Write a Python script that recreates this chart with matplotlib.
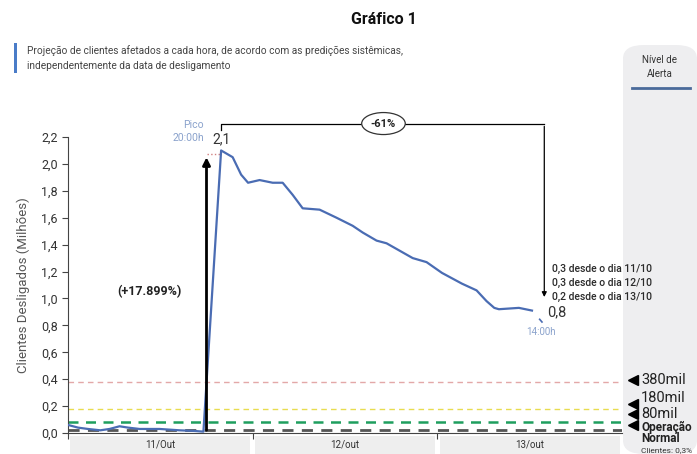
import matplotlib
matplotlib.use("Agg")
import matplotlib.pyplot as plt
from matplotlib.patches import FancyBboxPatch, Rectangle
from matplotlib.lines import Line2D
import matplotlib.transforms as mtransforms

plt.rcParams['font.family'] = ['Roboto', 'DejaVu Sans']

# ---------------- data ----------------
hours = [0.0, 1.3, 2.6, 4.2, 5.4, 6.7, 7.8, 9.3, 11.9, 14.5, 16.5, 17.6,
         19.9, 21.4, 22.5, 23.4, 24.9, 26.6, 27.9, 29.2, 30.5, 32.7, 34.9,
         37.0, 38.3, 40.1, 41.4, 44.8, 46.6, 48.6, 51.2, 53.1, 54.4, 55.4,
         56.0, 58.6, 60.3]
clients = [0.06, 0.04, 0.03, 0.02, 0.03, 0.05, 0.04, 0.03, 0.03, 0.02, 0.015, 0.01,
           2.10, 2.05, 1.92, 1.86, 1.88, 1.86, 1.86, 1.77, 1.67, 1.66, 1.60,
           1.54, 1.49, 1.43, 1.41, 1.30, 1.27, 1.19, 1.11, 1.06, 0.98, 0.93,
           0.92, 0.93, 0.91]
alert_levels = [0.38, 0.18, 0.08, 0.025]
alert_colors = ['#e3a8a8', '#e8dc50', '#1f9e5e', '#555555']
day_labels = ['11/Out', '12/out', '13/out']
day_starts = [0, 24, 48]
yticks = [0.0, 0.2, 0.4, 0.6, 0.8, 1.0, 1.2, 1.4, 1.6, 1.8, 2.0, 2.2]
peak_hour = 19.9
rise_hour = 18.0
end_hour = 61.9
desde_lines = ['0,3 desde o dia 11/10', '0,3 desde o dia 12/10', '0,2 desde o dia 13/10']

W, H = 697, 454
fig = plt.figure(figsize=(W / 100, H / 100), dpi=100)
fig.patch.set_facecolor('white')

def fx(x):
    return x / W

def fy(y):
    return 1 - y / H

# right gray panel
panel = FancyBboxPatch((fx(623), 0), fx(697) - fx(623), fy(45), boxstyle="round,pad=0,rounding_size=0.03",
                       transform=fig.transFigure, facecolor='#eeeef0', edgecolor='none', zorder=0)
fig.add_artist(panel)

ax = fig.add_axes([fx(68), fy(433), fx(622) - fx(68), (433 - 137) / H])
ax.set_facecolor('none')
ax.set_xlim(0, 72)
ax.set_ylim(0, 2.2)

# alert lines
ax.axhline(alert_levels[0], color=alert_colors[0], ls=(0, (4, 3)), lw=1.0, zorder=1)
ax.axhline(alert_levels[1], color=alert_colors[1], ls=(0, (4, 3)), lw=1.0, zorder=1)
ax.axhline(alert_levels[2], color=alert_colors[2], ls=(0, (4, 3)), lw=1.8, zorder=1)
ax.axhline(alert_levels[3], color=alert_colors[3], ls=(0, (4, 3)), lw=2.0, zorder=1)

ax.plot(hours, clients, color='#4a6cb3', lw=1.6, zorder=3)

# arrow up
ax.annotate('', xy=(rise_hour, 2.07), xytext=(rise_hour, 0.0),
            arrowprops=dict(arrowstyle='-|>', color='black', lw=2.0, mutation_scale=11), zorder=4)
ax.plot([rise_hour, peak_hour], [2.07, 2.07], color='#d08080', ls=':', lw=1.0, zorder=2)

# bracket
ax.plot([peak_hour, peak_hour, end_hour], [2.25, 2.30, 2.30], color='black', lw=0.9, clip_on=False)
ax.annotate('', xy=(end_hour, 0.99), xytext=(end_hour, 2.30),
            arrowprops=dict(arrowstyle='-|>', color='black', lw=0.9, mutation_scale=7),
            annotation_clip=False)
ax.text(41.0, 2.30, '-61%', ha='center', va='center', fontsize=8, fontweight='bold', color='#222',
        bbox=dict(boxstyle='ellipse,pad=0.25', fc='white', ec='#333', lw=0.9), clip_on=False)

ax.text(rise_hour - 0.3, 2.24, 'Pico\n20:00h', ha='right', va='center', fontsize=7.5,
        color='#8aa2cc', linespacing=1.3, clip_on=False)
ax.text(peak_hour, 2.18, '2,1', ha='center', va='center', fontsize=10, color='#333', clip_on=False)
ax.text(10.6, 1.05, '(+17.899%)', ha='center', va='center', fontsize=9, fontweight='bold', color='#222')
for i, t in enumerate(desde_lines):
    ax.text(62.9, 1.22 - i * 0.105, t, ha='left', va='center', fontsize=7.5, fontweight='medium',
            color='#2a2a2a', clip_on=False)
ax.text(62.3, 0.90, '0,8', ha='left', va='center', fontsize=10.5, color='#333', clip_on=False)
ax.plot([61.3, 61.6], [0.845, 0.825], color='#4a6cb3', lw=1.2, clip_on=False)
ax.text(61.4, 0.75, '14:00h', ha='center', va='center', fontsize=7, color='#8aa2cc', clip_on=False)

# axes styling
for s in ['top', 'right']:
    ax.spines[s].set_visible(False)
ax.spines['left'].set_color('#444')
ax.spines['bottom'].set_color('#444')
ax.set_yticks(yticks)
ax.set_yticklabels([f'{v:.1f}'.replace('.', ',') for v in yticks], fontsize=9, color='#333')
ax.set_xticks(day_starts)
ax.set_xticklabels([])
ax.tick_params(axis='both', length=4, color='#444', width=0.8)
ax.set_ylabel('Clientes Desligados (Milhões)', fontsize=9.5, color='#555', labelpad=8)

# day bands
trans = mtransforms.blended_transform_factory(ax.transData, fig.transFigure)
for d, lab in zip(day_starts, day_labels):
    r = Rectangle((d + 0.3, 0), 23.4, fy(436), transform=trans, facecolor='#eeeeee',
                  edgecolor='none', clip_on=False, zorder=0)
    fig.add_artist(r)
    fig.text(ax.transData.transform((d + 12, 0))[0] / W, fy(445), lab, ha='center', va='center',
             fontsize=7, color='#333')

# titles
fig.text(fx(384), fy(20), 'Gráfico 1', ha='center', va='center', fontsize=11.5, fontweight='bold', color='#111')
fig.add_artist(Rectangle((fx(14), fy(73)), fx(3), fy(43) - fy(73), transform=fig.transFigure,
                         facecolor='#4a7cc8', edgecolor='none'))
fig.text(fx(27), fy(51), 'Projeção de clientes afetados a cada hora, de acordo com as predições sistêmicas,',
         ha='left', va='center', fontsize=7.3, color='#444')
fig.text(fx(27), fy(66), 'independentemente da data de desligamento',
         ha='left', va='center', fontsize=7.3, color='#444')

# right panel texts
fig.text(fx(660), fy(67), 'Nível de\nAlerta', ha='center', va='center', fontsize=7, color='#333', linespacing=1.4)
fig.add_artist(Line2D([fx(632), fx(690)], [fy(88), fy(88)], transform=fig.transFigure, color='#4a6a9a', lw=2))

for yy in [380, 404, 414, 425]:
    fig.add_artist(Line2D([fx(633)], [fy(yy)], transform=fig.transFigure, marker='<', markersize=7,
                          color='black', ls='none'))
fig.text(fx(641), fy(380), '380mil', ha='left', va='center', fontsize=10.5, color='#222')
fig.text(fx(641), fy(398), '180mil', ha='left', va='center', fontsize=10.5, color='#222')
fig.text(fx(641), fy(414), '80mil', ha='left', va='center', fontsize=10.5, color='#222')
fig.text(fx(641), fy(427), 'Operação', ha='left', va='center', fontsize=8.5, fontweight='bold', color='#222')
fig.text(fx(641), fy(439), 'Normal', ha='left', va='center', fontsize=8.5, fontweight='bold', color='#222')
fig.text(fx(641), fy(450), 'Clientes: 0,3%', ha='left', va='center', fontsize=6, color='#333')

fig.savefig('out.png', dpi=100)
